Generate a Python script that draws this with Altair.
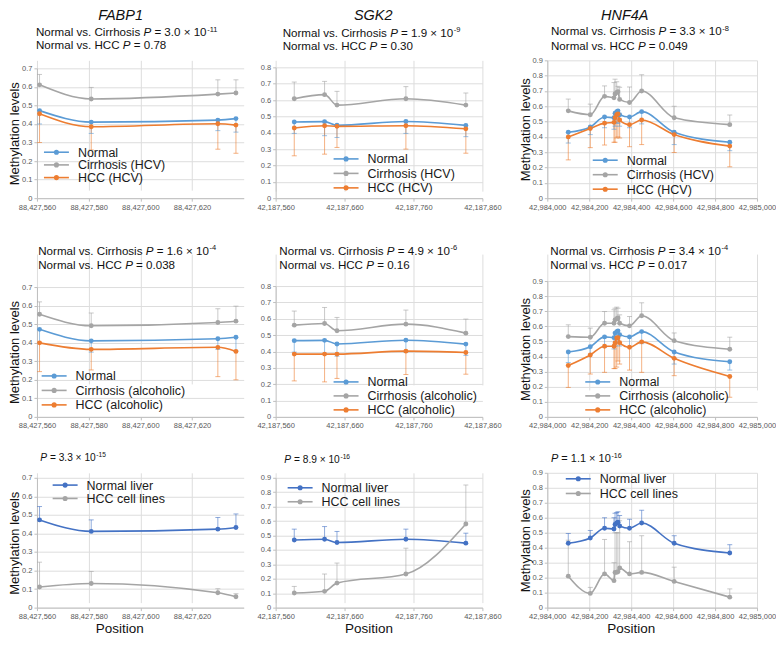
import altair as alt
import pandas as pd

FONT = "Liberation Sans, Arial, Helvetica, sans-serif"

# ---------------- data ----------------
genes = ["FABP1", "SGK2", "HNF4A"]

fabp1_pos = [88427561, 88427581, 88427630, 88427637]
sgk2_pos = [42187587, 42187631, 42187649, 42187749, 42187836]
hnf4a_pos = [42984100, 42984205, 42984273, 42984318, 42984323, 42984331,
             42984337, 42984345, 42984392, 42984450, 42984605, 42984870]

# FABP1
fabp1_normal = [0.472, 0.410, 0.421, 0.429]
fabp1_normal_lo = [0.400, 0.349, 0.364, 0.356]
fabp1_cirr_hcv = [0.611, 0.535, 0.561, 0.567]
fabp1_cirr_hcv_hi = [0.667, 0.597, 0.638, 0.638]
fabp1_hcc_hcv = [0.455, 0.385, 0.401, 0.394]
fabp1_hcc_hcv_lo = [0.300, 0.260, 0.264, 0.242]
fabp1_cirr_alc = [0.553, 0.491, 0.509, 0.516]
fabp1_cirr_alc_hi = [0.620, 0.560, 0.583, 0.597]
fabp1_hcc_alc = [0.399, 0.364, 0.375, 0.353]
fabp1_hcc_alc_lo = [0.244, 0.253, 0.217, 0.200]
fabp1_liver = [0.473, 0.411, 0.423, 0.432]
fabp1_liver_hi = [0.545, 0.473, 0.486, 0.505]
fabp1_lines = [0.111, 0.130, 0.080, 0.059]
fabp1_lines_hi = [0.245, 0.195, 0.102, 0.075]

# SGK2
sgk2_normal = [0.466, 0.468, 0.446, 0.469, 0.445]
sgk2_normal_lo = [0.396, 0.382, 0.371, 0.396, 0.376]
sgk2_cirr_hcv = [0.608, 0.633, 0.569, 0.608, 0.569]
sgk2_cirr_hcv_hi = [0.710, 0.714, 0.653, 0.682, 0.643]
sgk2_hcc_hcv = [0.429, 0.443, 0.439, 0.443, 0.424]
sgk2_hcc_hcv_lo = [0.259, 0.269, 0.310, 0.300, 0.275]
sgk2_cirr_alc = [0.561, 0.571, 0.527, 0.567, 0.512]
sgk2_cirr_alc_hi = [0.647, 0.669, 0.608, 0.653, 0.598]
sgk2_hcc_alc = [0.384, 0.384, 0.384, 0.402, 0.394]
sgk2_hcc_alc_lo = [0.220, 0.214, 0.235, 0.259, 0.261]
sgk2_liver = [0.469, 0.474, 0.451, 0.474, 0.447]
sgk2_liver_hi = [0.544, 0.562, 0.528, 0.544, 0.516]
sgk2_lines = [0.101, 0.113, 0.170, 0.233, 0.580]
sgk2_lines_hi = [0.147, 0.233, 0.309, 0.412, 0.850]

# HNF4A
hnf4a_normal = [0.430, 0.465, 0.530, 0.525, 0.555, 0.565, 0.570, 0.545, 0.530, 0.565, 0.430, 0.365]
hnf4a_normal_lo = [0.360, 0.415, 0.460, 0.450, 0.470, 0.490, 0.490, 0.470, 0.460, 0.485, 0.350, 0.310]
hnf4a_cirr_hcv = [0.570, 0.545, 0.665, 0.655, 0.680, 0.690, 0.695, 0.645, 0.625, 0.700, 0.525, 0.480]
hnf4a_cirr_hcv_hi = [0.647, 0.614, 0.733, 0.755, 0.777, 0.760, 0.730, 0.724, 0.726, 0.806, 0.600, 0.543]
hnf4a_hcc_hcv = [0.400, 0.455, 0.490, 0.495, 0.525, 0.545, 0.550, 0.510, 0.480, 0.510, 0.415, 0.340]
hnf4a_hcc_hcv_lo = [0.250, 0.330, 0.347, 0.365, 0.365, 0.393, 0.400, 0.393, 0.336, 0.350, 0.298, 0.205]
hnf4a_cirr_alc = [0.532, 0.528, 0.620, 0.620, 0.643, 0.650, 0.655, 0.620, 0.603, 0.670, 0.505, 0.448]
hnf4a_cirr_alc_hi = [0.610, 0.588, 0.698, 0.710, 0.720, 0.727, 0.720, 0.676, 0.665, 0.756, 0.556, 0.528]
hnf4a_hcc_alc = [0.340, 0.410, 0.468, 0.468, 0.490, 0.523, 0.525, 0.492, 0.461, 0.497, 0.388, 0.268]
hnf4a_hcc_alc_lo = [0.195, 0.284, 0.295, 0.320, 0.320, 0.330, 0.370, 0.350, 0.310, 0.295, 0.273, 0.130]
hnf4a_liver = [0.430, 0.465, 0.530, 0.525, 0.555, 0.565, 0.570, 0.545, 0.530, 0.565, 0.430, 0.365]
hnf4a_liver_hi = [0.495, 0.515, 0.600, 0.600, 0.630, 0.635, 0.640, 0.615, 0.590, 0.650, 0.480, 0.420]
hnf4a_lines = [0.210, 0.095, 0.225, 0.180, 0.235, 0.235, 0.240, 0.265, 0.225, 0.235, 0.175, 0.070]
hnf4a_lines_hi = [0.450, 0.135, 0.455, 0.300, 0.500, 0.500, 0.500, 0.580, 0.440, 0.480, 0.270, 0.125]

# P-value texts
pvals = {
    (0, 0): ("3.0 × 10", "-11", "0.78"),
    (0, 1): ("1.9 × 10", "-9", "0.30"),
    (0, 2): ("3.3 × 10", "-8", "0.049"),
    (1, 0): ("1.6 × 10", "-4", "0.038"),
    (1, 1): ("4.9 × 10", "-6", "0.16"),
    (1, 2): ("3.4 × 10", "-4", "0.017"),
    (2, 0): ("3.3 × 10", "-15", None),
    (2, 1): ("8.9 × 10", "-16", None),
    (2, 2): ("1.1 × 10", "-16", None),
}

x_domains = [[88427560, 88427640], [42187560, 42187860], [42984000, 42985000]]
x_ticks = [[88427560, 88427580, 88427600, 88427620],
           [42187560, 42187660, 42187760, 42187860],
           [42984000, 42984200, 42984400, 42984600, 42984800, 42985000]]
y_max = [[0.7, 0.8, 0.9], [0.7, 0.8, 0.9], [0.7, 0.9, 0.9]]
y_ticks_all = [0, 0.1, 0.2, 0.3, 0.4, 0.5, 0.6, 0.7, 0.8, 0.9]

C_NORMAL = "#5B9BD5"
C_GRAY = "#A5A5A5"
C_ORANGE = "#ED7D31"
C_LIVER = "#4472C4"

# ---------------- layout ----------------
col_w = [207, 207, 210]
row_h = [138, 163, 135]
y_top = [[8, 7, 0], [33, 32, 27], [5, 5, 0]]
title_cx = [83.7, 97.7, 77.5]
pos_title_x = [82.3, 93, 83.5]
# legend: symbol left, first row centre, row spacing
legend_pos = [[(7, 92, 12.7), (58, 98.7, 14.5), (45.5, 100, 14.5)],
              [(4.7, 122, 14.5), (58, 128, 14), (38, 128, 14)],
              [(15.7, 12.3, 13.4), (12, 15, 14), (18.5, 6, 14.7)]]
ann = [[(-1, -24, -11.7, 11.6), (7, -23.3, -10, 11.6), (3.7, -25, -10.7, 11.6)],
       [(1.3, 1, 15.3, 11.6), (3.7, 1, 15.3, 11.6), (3, 1, 15.3, 11.6)],
       [(3.3, -11.5, None, 10.2), (8.7, -10, None, 10.2), (3.7, -10.5, None, 11)]]

AW = {' ': 278, '.': 278, ',': 278, '-': 333, '=': 584, '×': 584,
      'N': 722, 'o': 556, 'r': 333, 'm': 833, 'a': 556, 'l': 222, 'v': 500,
      's': 500, 'C': 722, 'i': 222, 'h': 556, 'H': 722, 'P': 667}


def tw(s, size):
    return sum(AW.get(c, 556) for c in s) * size / 1000.0


ONE = alt.InlineData(values=[{"k": 0}])


def txt(s, x, y, size, italic=False, align="left", baseline="alphabetic", color="#111111"):
    return alt.Chart(ONE).mark_text(
        align=align, baseline=baseline, font=FONT, fontSize=size,
        fontStyle="italic" if italic else "normal", color=color
    ).encode(x=alt.value(x), y=alt.value(y), text=alt.value(s))


def pline(x, y, size, prefix, main, exp=None):
    out = []
    cx = x
    if prefix:
        out.append(txt(prefix, cx, y, size))
        cx += tw(prefix + " ", size)
    out.append(txt("P", cx, y, size, italic=True))
    cx += tw("P ", size)
    s = "= " + main
    out.append(txt(s, cx, y, size))
    cx += tw(s, size)
    if exp:
        out.append(txt(exp, cx + 0.6, y - size * 0.42, size * 0.65))
    return out


def legend_layers(entries, left, yc0, sp):
    out = []
    for i, (name, color) in enumerate(entries):
        yc = yc0 + i * sp
        out.append(alt.Chart(ONE).mark_rule(strokeWidth=1.6, color=color).encode(
            x=alt.value(left), x2=alt.value(left + 25), y=alt.value(yc)))
        out.append(alt.Chart(ONE).mark_circle(size=26, opacity=1, color=color).encode(
            x=alt.value(left + 12.5), y=alt.value(yc)))
        out.append(txt(name, left + 34, yc + 0.5, 12.5, baseline="middle", color="#1a1a1a"))
    return out


def panel(r, c, pos, series):
    W, H = col_w[c], row_h[r]
    rows = []
    for name, vals, ends, color in series:
        for p, v, e in zip(pos, vals, ends):
            rows.append({"pos": p, "val": v, "end": e, "series": name})
    df = pd.DataFrame(rows)
    names = [s[0] for s in series]
    colors = [s[3] for s in series]
    ymax = y_max[r][c]
    yvals = [t for t in y_ticks_all if t <= ymax + 1e-9]

    xax = alt.Axis(values=x_ticks[c], format=",d", labelFont=FONT, labelFontSize=7.5,
                   labelColor="#595959", labelPadding=2, labelFlush=False, labelOverlap=False,
                   tickColor="#BFBFBF", tickSize=3, domainColor="#BFBFBF",
                   grid=True, gridColor="#DDDDDD", gridWidth=1,
                   title="Position" if r == 2 else None,
                   titleFont=FONT, titleFontSize=13.5, titleFontWeight="normal",
                   titleColor="#111111", titleX=pos_title_x[c], titleY=25,
                   titleBaseline="alphabetic", titleAlign="center")
    ytitle = "Methylation levels" if c != 1 else None
    yax = alt.Axis(values=yvals, labelExpr="datum.value == 0 ? '0' : format(datum.value, '.1f')",
                   labelFont=FONT, labelFontSize=7.5, labelColor="#595959", labelPadding=2,
                   labelOverlap=False, labelFlush=False,
                   tickColor="#BFBFBF", tickSize=3, domainColor="#BFBFBF",
                   grid=True, gridColor="#DDDDDD", gridWidth=1,
                   title=ytitle, titleFont=FONT, titleFontSize=13, titleFontWeight="normal",
                   titleColor="#111111", titleAngle=270, titleBaseline="bottom",
                   titleAlign="center", titleX=-15,
                   titleY=(y_top[r][c] + H) / 2.0)
    xs = alt.Scale(domain=x_domains[c], nice=False, zero=False)
    ys = alt.Scale(domain=[0, ymax], range=[H, y_top[r][c]], nice=False, zero=True)
    X = alt.X("pos:Q", scale=xs, axis=xax)
    Yv = alt.Y("val:Q", scale=ys, axis=yax)
    Ye = alt.Y("end:Q", scale=ys, axis=yax)
    strk = alt.Stroke("series:N", scale=alt.Scale(domain=names, range=colors), legend=None)
    fill = alt.Fill("series:N", scale=alt.Scale(domain=names, range=colors), legend=None)
    base = alt.Chart(df)
    err = base.mark_rule(strokeWidth=1, opacity=0.6).encode(x=X, y=Yv, y2="end:Q", stroke=strk)
    cap = base.mark_rule(strokeWidth=1, opacity=0.6, xOffset=-2.5, x2Offset=2.5).encode(
        x=X, x2="pos:Q", y=Ye, stroke=strk)
    line = base.mark_line(interpolate="monotone", strokeWidth=1.6).encode(x=X, y=Yv, stroke=strk)
    pts = base.mark_circle(size=24, opacity=1).encode(x=X, y=Yv, fill=fill)
    layers = [err, cap, line, pts]

    left, yc0, sp = legend_pos[r][c]
    layers += legend_layers(list(zip(names, colors)), left, yc0, sp)

    ax, y1, y2, fs = ann[r][c]
    main, exp, p2 = pvals[(r, c)]
    if r < 2:
        layers += pline(ax, y1, fs, "Normal vs. Cirrhosis", main, exp)
        layers += pline(ax, y2, fs, "Normal vs. HCC", p2)
    else:
        layers += pline(ax, y1, fs, None, main, exp)
    if r == 0:
        layers.append(txt(genes[c], title_cx[c], -40, 14.5, italic=True, align="center"))
    return alt.layer(*layers).properties(width=W, height=H)


def spacer():
    return alt.Chart(ONE).mark_point(opacity=0).encode(
        x=alt.value(0), y=alt.value(0)).properties(width=1, height=1)


hcv = ["Normal", "Cirrhosis (HCV)", "HCC (HCV)"]
alc = ["Normal", "Cirrhosis (alcoholic)", "HCC (alcoholic)"]
cl = ["Normal liver", "HCC cell lines"]

p = [[None] * 3 for _ in range(3)]
p[0][0] = panel(0, 0, fabp1_pos, [(hcv[0], fabp1_normal, fabp1_normal_lo, C_NORMAL),
                                  (hcv[1], fabp1_cirr_hcv, fabp1_cirr_hcv_hi, C_GRAY),
                                  (hcv[2], fabp1_hcc_hcv, fabp1_hcc_hcv_lo, C_ORANGE)])
p[0][1] = panel(0, 1, sgk2_pos, [(hcv[0], sgk2_normal, sgk2_normal_lo, C_NORMAL),
                                 (hcv[1], sgk2_cirr_hcv, sgk2_cirr_hcv_hi, C_GRAY),
                                 (hcv[2], sgk2_hcc_hcv, sgk2_hcc_hcv_lo, C_ORANGE)])
p[0][2] = panel(0, 2, hnf4a_pos, [(hcv[0], hnf4a_normal, hnf4a_normal_lo, C_NORMAL),
                                  (hcv[1], hnf4a_cirr_hcv, hnf4a_cirr_hcv_hi, C_GRAY),
                                  (hcv[2], hnf4a_hcc_hcv, hnf4a_hcc_hcv_lo, C_ORANGE)])
p[1][0] = panel(1, 0, fabp1_pos, [(alc[0], fabp1_normal, fabp1_normal_lo, C_NORMAL),
                                  (alc[1], fabp1_cirr_alc, fabp1_cirr_alc_hi, C_GRAY),
                                  (alc[2], fabp1_hcc_alc, fabp1_hcc_alc_lo, C_ORANGE)])
p[1][1] = panel(1, 1, sgk2_pos, [(alc[0], sgk2_normal, sgk2_normal_lo, C_NORMAL),
                                 (alc[1], sgk2_cirr_alc, sgk2_cirr_alc_hi, C_GRAY),
                                 (alc[2], sgk2_hcc_alc, sgk2_hcc_alc_lo, C_ORANGE)])
p[1][2] = panel(1, 2, hnf4a_pos, [(alc[0], hnf4a_normal, hnf4a_normal_lo, C_NORMAL),
                                  (alc[1], hnf4a_cirr_alc, hnf4a_cirr_alc_hi, C_GRAY),
                                  (alc[2], hnf4a_hcc_alc, hnf4a_hcc_alc_lo, C_ORANGE)])
p[2][0] = panel(2, 0, fabp1_pos, [(cl[0], fabp1_liver, fabp1_liver_hi, C_LIVER),
                                  (cl[1], fabp1_lines, fabp1_lines_hi, C_GRAY)])
p[2][1] = panel(2, 1, sgk2_pos, [(cl[0], sgk2_liver, sgk2_liver_hi, C_LIVER),
                                 (cl[1], sgk2_lines, sgk2_lines_hi, C_GRAY)])
p[2][2] = panel(2, 2, hnf4a_pos, [(cl[0], hnf4a_liver, hnf4a_liver_hi, C_LIVER),
                                  (cl[1], hnf4a_lines, hnf4a_lines_hi, C_GRAY)])

cells = []
for r in range(3):
    cells += [p[r][0], p[r][1], spacer(), p[r][2]]

chart = alt.concat(
    *cells, columns=4, spacing={"row": 56, "column": 32}, bounds="flush", align="each"
).resolve_scale(
    x="independent", y="independent", fill="independent", stroke="independent"
).properties(
    padding=0, background="white"
).configure_view(stroke=None)

chart.save("out.html", embed_options={"renderer": "svg", "actions": False})
